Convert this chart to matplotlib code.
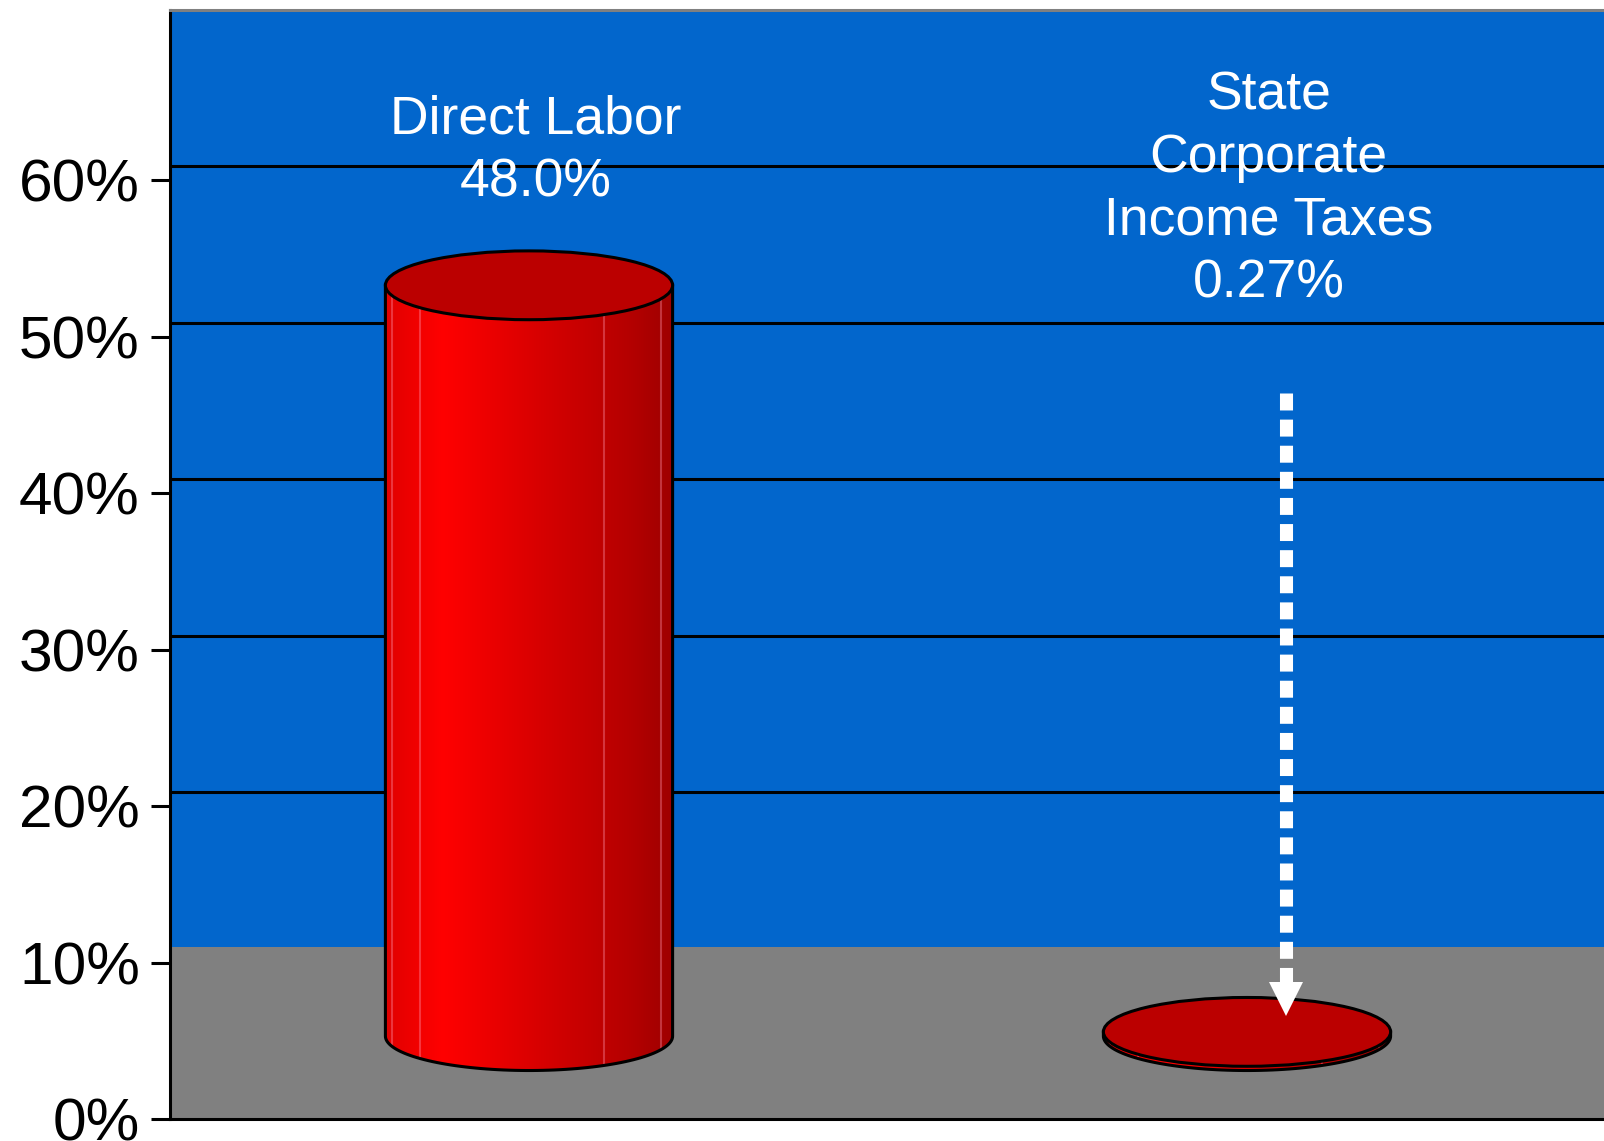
import numpy as np
import matplotlib.pyplot as plt
from matplotlib.patches import Ellipse, Polygon
from matplotlib.colors import LinearSegmentedColormap

plt.rcParams['font.family'] = ['Liberation Sans', 'DejaVu Sans']

# data
categories = ["Direct Labor", "State\nCorporate\nIncome Taxes"]
values = [48.0, 0.27]
value_labels = ["48.0%", "0.27%"]
yticks = [0, 10, 20, 30, 40, 50, 60]

# 3d look
depth = 0.9       # back wall shift of gridlines (in %)
base = 5.3        # where cylinders stand (in %)
floor_top = 11.0
bar_w = 0.4
ell_h = 4.4

BLUE = "#0266CC"
GRAY = "#808080"
TOP_RED = "#BB0000"

side_cmap = LinearSegmentedColormap.from_list("side", [
    (0.0, (0.88, 0, 0)),
    (0.2, (1.0, 0, 0)),
    (0.55, (0.84, 0, 0)),
    (0.85, (0.71, 0, 0)),
    (1.0, (0.62, 0, 0)),
])


def cylinder(ax, xc, b, h):
    x0, x1 = xc - bar_w / 2, xc + bar_w / 2
    t = np.linspace(0, np.pi, 80)
    low_x = xc + bar_w / 2 * np.cos(t)
    low_y = b - ell_h / 2 * np.sin(t)
    pts = [(x0, b + h), (x1, b + h)] + list(zip(low_x, low_y))
    side = Polygon(pts, closed=True, facecolor="none", edgecolor="black", lw=2.2, zorder=3)
    ax.add_patch(side)
    grad = np.linspace(0, 1, 256).reshape(1, -1)
    im = ax.imshow(grad, cmap=side_cmap, aspect="auto", extent=(x0, x1, b - ell_h / 2, b + h),
                   zorder=2, interpolation="bilinear")
    im.set_clip_path(side)
    # light stripes on the side
    for f in [0.024, 0.12, 0.76, 0.96]:
        xs = x0 + f * bar_w
        ln, = ax.plot([xs, xs], [b - ell_h / 2, b + h], color=(1, 0.6, 0.7), alpha=0.35, lw=1.5, zorder=2.5)
        ln.set_clip_path(side)
    top = Ellipse((xc, b + h), bar_w, ell_h, facecolor=TOP_RED, edgecolor="black", lw=2.2, zorder=4)
    ax.add_patch(top)


fig = plt.figure(figsize=(16.04, 11.41), dpi=100)
ax = fig.add_axes([170 / 1604, 22 / 1141, 1436 / 1604, 1109 / 1141])
ax.set_facecolor(BLUE)
ax.set_xlim(-0.5, 1.5)
ax.set_ylim(0, 70.9)

ax.axhspan(0, floor_top, color=GRAY, zorder=0.5, lw=0)
for v in yticks:
    if v + depth > floor_top:
        ax.axhline(v + depth, color="black", lw=2.2, zorder=0.6)

for i, v in enumerate(values):
    cylinder(ax, i, base, v)

ax.text(0.01, 59.0, categories[0] + "\n" + value_labels[0], color="white", fontsize=38.5,
        ha="center", va="baseline", linespacing=1.33, zorder=5)
ax.text(1.03, 52.5, categories[1] + "\n" + value_labels[1], color="white", fontsize=38.5,
        ha="center", va="baseline", linespacing=1.33, zorder=5)

# dashed arrow pointing at the tiny cylinder
ax_x = 1.054
ax.plot([ax_x, ax_x], [46.4, 8.6], color="white", lw=9.4, dashes=(1.3, 0.7), solid_capstyle="butt",
        dash_capstyle="butt", zorder=6)
ax.plot([ax_x], [7.7], marker="v", markersize=24, color="white", markeredgewidth=0, zorder=6)

ax.set_xticks([])
ax.set_yticks(yticks)
ax.set_yticklabels([f"{v}%" for v in yticks])
ax.tick_params(axis="y", length=13.7, width=2.2, pad=8, labelsize=43.5, colors="black")
for s in ["left", "bottom"]:
    ax.spines[s].set_color("black")
    ax.spines[s].set_linewidth(2.2)
ax.spines["top"].set_color(GRAY)
ax.spines["top"].set_linewidth(2.2)
ax.spines["right"].set_visible(False)

fig.savefig("out.png", dpi=100)
